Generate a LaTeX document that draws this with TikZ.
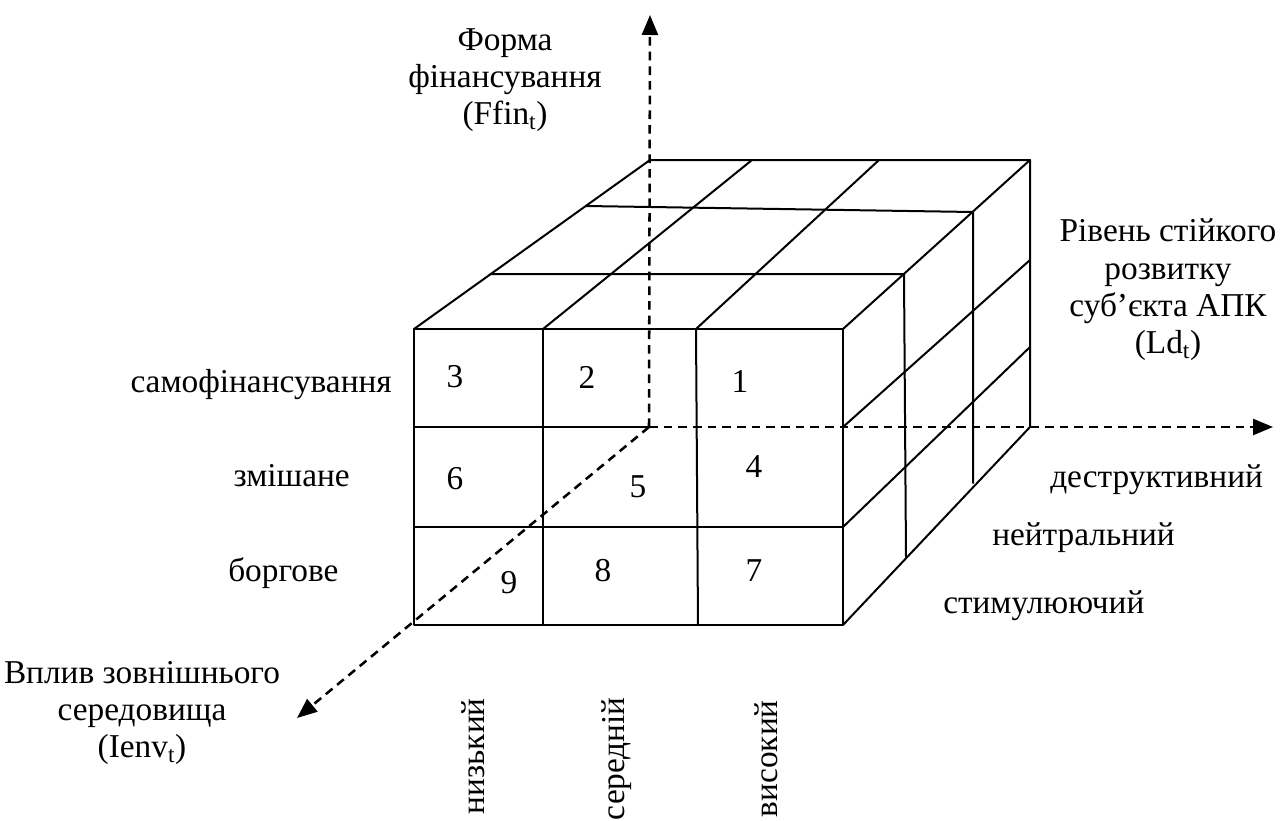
\documentclass[tikz,border=0pt]{standalone}
\usepackage{fontspec}
\setmainfont{Liberation Serif}
\usetikzlibrary{arrows.meta}
\tikzset{
  cubeline/.style={line width=1.5pt, line join=round, line cap=round},
  axisline/.style={line width=1.9pt, dash pattern=on 6.5pt off 4.5pt, -{Triangle[length=15pt,width=12pt]}},
  lbl/.style={font=\fontsize{25}{28}\selectfont, inner sep=0pt, align=center},
  vlab/.style={lbl, rotate=90, anchor=base east}
}
\begin{document}
\begin{tikzpicture}[x=0.75pt,y=-0.75pt]
\useasboundingbox (0,0) rectangle (1282,821);
% front face corners
\coordinate (f00) at (414,329); \coordinate (f10) at (543,329); \coordinate (f20) at (696,329); \coordinate (f30) at (843,329);
\coordinate (f01) at (414,427); \coordinate (f31) at (843,427);
\coordinate (f02) at (414,527); \coordinate (f32) at (843,527);
\coordinate (f03) at (414,625); \coordinate (f13) at (543,625); \coordinate (f23) at (698,625); \coordinate (f33) at (843,625);
% back top
\coordinate (b0) at (650,160); \coordinate (b1) at (752,160); \coordinate (b2) at (879,160); \coordinate (b3) at (1030,160);
% back right edge
\coordinate (r1) at (1030,260); \coordinate (r2) at (1030,347); \coordinate (r3) at (1030,427);
% top face cross lines
\coordinate (t1l) at (491,274); \coordinate (t1r) at (904,274);
\coordinate (t2l) at (586,206); \coordinate (t2r) at (973,212);
\coordinate (v1b) at (906,557); \coordinate (v2b) at (973,483);
% axes
\coordinate (o) at (649,427);
\coordinate (ztip) at (650,15);
\coordinate (xtip) at (1273,427);
\coordinate (ytip) at (297,718);

% cube wireframe
\draw[cubeline] (f03) -- (f00) -- (f30) -- (f33) -- cycle;
\draw[cubeline] (f01) -- (o);
\draw[cubeline] (f02) -- (f32);
\draw[cubeline] (f10) -- (f13);
\draw[cubeline] (f20) -- (f23);
\draw[cubeline] (f00) -- (b0) -- (b3) -- (r3) -- (f33);
\draw[cubeline] (f30) -- (b3);
\draw[cubeline] (f10) -- (b1);
\draw[cubeline] (f20) -- (b2);
\draw[cubeline] (f31) -- (r1);
\draw[cubeline] (f32) -- (r2);
\draw[cubeline] (t1l) -- (t1r) -- (v1b);
\draw[cubeline] (t2l) -- (t2r) -- (v2b);

% axes
\draw[axisline] (o) -- (ztip);
\draw[axisline] (o) -- (xtip);
\draw[axisline] (o) -- (ytip);

% cell numbers
\node[lbl] (n1) at (740,381) {1};
\node[lbl] (n2) at (587,377) {2};
\node[lbl] (n3) at (455,377) {3};
\node[lbl] (n4) at (754,467) {4};
\node[lbl] (n5) at (638,487) {5};
\node[lbl] (n6) at (455,479) {6};
\node[lbl] (n7) at (754,571) {7};
\node[lbl] (n8) at (603,571) {8};
\node[lbl] (n9) at (509,583) {9};

% axis titles
\node[lbl] (tz) at (505,80) {Форма\\фінансування\\(Ffin\textsubscript{t})};
\node[lbl] (tx) at (1168,290) {Рівень стійкого\\розвитку\\суб’єкта АПК\\(Ld\textsubscript{t})};
\node[lbl] (ty) at (142,713) {Вплив зовнішнього\\середовища\\(Ienv\textsubscript{t})};

% row labels
\node[lbl, anchor=base east] (ls) at (392,392) {самофінансування};
\node[lbl, anchor=base east] (lz) at (350,486) {змішане};
\node[lbl, anchor=base west] (lb) at (228,581) {боргове};

% right labels
\node[lbl, anchor=base west] (ld) at (1050,487) {деструктивний};
\node[lbl, anchor=base west] (ln) at (992,545) {нейтральний};
\node[lbl, anchor=base west] (lst) at (943,613) {стимулюючий};

% bottom labels
\node[vlab] (vn) at (484,698) {низький};
\node[vlab] (vs) at (624,697) {середній};
\node[vlab] (vv) at (777,700) {високий};
\end{tikzpicture}
\end{document}
